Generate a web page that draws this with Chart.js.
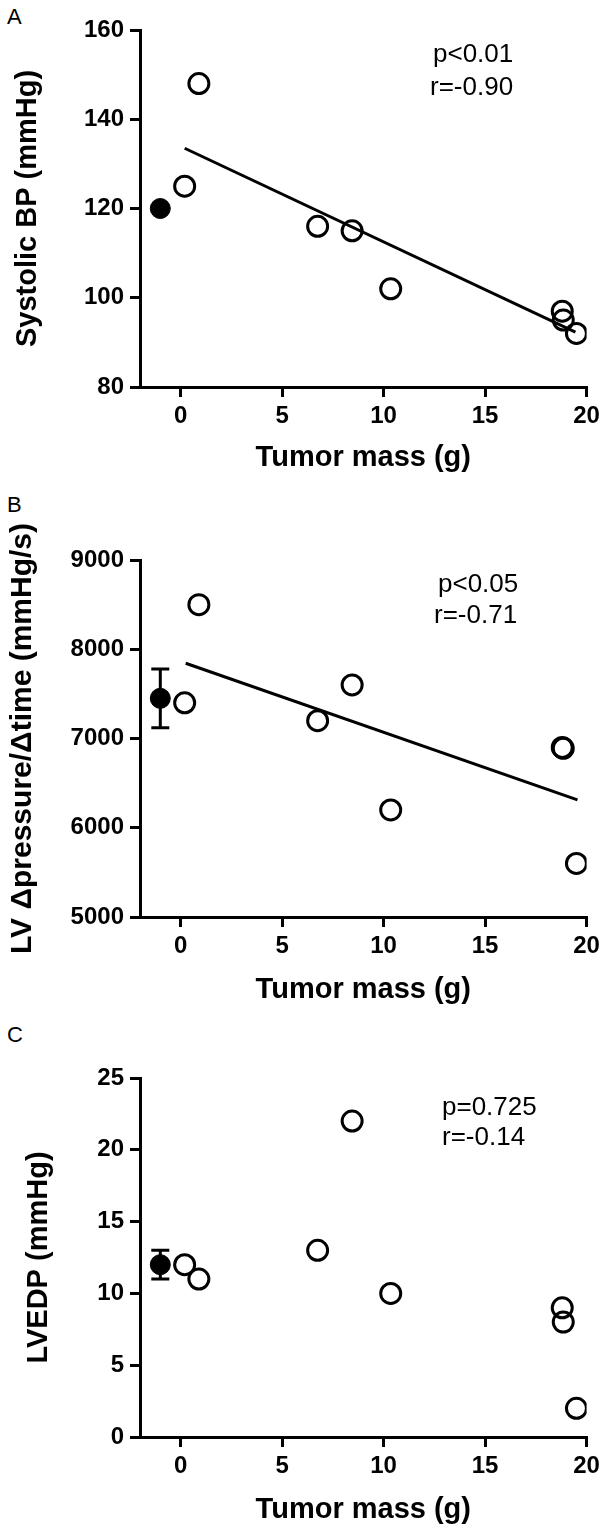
<!DOCTYPE html>
<html>
<head>
<meta charset="utf-8">
<script src="https://cdn.jsdelivr.net/npm/chart.js@4.4.1/dist/chart.umd.min.js"></script>
<style>
html,body{margin:0;padding:0;background:#fff;}
body{width:608px;height:1532px;position:relative;overflow:hidden;font-family:'Liberation Sans',Arial,sans-serif;}
canvas{position:absolute;left:0;}
.lbl{position:absolute;left:7px;font-size:22px;line-height:22px;color:#000;}
</style>
</head>
<body>
<div class="lbl" style="top:6px">A</div>
<div class="lbl" style="top:494px">B</div>
<div class="lbl" style="top:1024px">C</div>
<canvas id="cA" width="608" height="500" style="top:0px"></canvas>
<canvas id="cB" width="608" height="510" style="top:500px"></canvas>
<canvas id="cC" width="608" height="522" style="top:1010px"></canvas>
<script>
// ---- data ----
const xTicks = [0, 5, 10, 15, 20];
const tumorMass = [0.2, 0.9, 6.75, 8.45, 10.35, 18.8, 18.85, 19.5];
const controlMass = -1;

// Panel A: systolic BP
const yTicksA = [80, 100, 120, 140, 160];
const systolicBP = [125, 148, 116, 115, 102, 97, 95, 92];
const controlBP = 120;
const fitA_x = [0.2, 19.45];
const fitA_y = [133.5, 92.3];
const statsA = ['p<0.01', 'r=-0.90'];

// Panel B: LV dP/dt
const yTicksB = [5000, 6000, 7000, 8000, 9000];
const lvDpDt = [7400, 8500, 7200, 7600, 6200, 6900, 6890, 5600];
const controlDpDt = 7450;
const controlDpDtErr = [7120, 7780];
const fitB_x = [0.25, 19.55];
const fitB_y = [7843, 6312];
const statsB = ['p<0.05', 'r=-0.71'];

// Panel C: LVEDP
const yTicksC = [0, 5, 10, 15, 20, 25];
const lvedp = [12, 11, 13, 22, 10, 9, 8, 2];
const controlLVEDP = 12;
const controlLVEDPErr = [11, 13];
const statsC = ['p=0.725', 'r=-0.14'];

// ---- rendering ----
const FONT = "'Liberation Sans', Arial, sans-serif";
const zip = (xs, ys) => xs.map((x, i) => ({x: x, y: ys[i]}));

function panel(id, o) {
  const datasets = [];
  datasets.push({label: 'tumor', data: zip(tumorMass, o.values), pointRadius: 10,
    pointBackgroundColor: 'rgba(255,255,255,0)', pointBorderColor: '#000', pointBorderWidth: 3});
  datasets.push({label: 'control', data: [{x: controlMass, y: o.ctrl}], pointRadius: 10,
    pointBackgroundColor: '#000', pointBorderColor: '#000', pointBorderWidth: 1});
  if (o.err) {
    datasets.push({label: 'sem', data: o.err.map(v => ({x: controlMass, y: v})), showLine: true,
      borderColor: '#000', borderWidth: 3, pointStyle: 'line', pointRadius: 9,
      pointBorderWidth: 3, pointBorderColor: '#000', pointBackgroundColor: '#000'});
  }
  if (o.fitX) {
    datasets.push({label: 'fit', data: zip(o.fitX, o.fitY), showLine: true,
      borderColor: '#000', borderWidth: 3, pointRadius: 0});
  }
  const stats = o.stats;
  const statPlugin = {
    id: 'stats' + id,
    afterDraw(chart) {
      const c = chart.ctx;
      c.save();
      c.fillStyle = '#000';
      c.font = '26px ' + FONT;
      c.textAlign = 'left';
      c.textBaseline = 'alphabetic';
      stats.forEach((t, i) => c.fillText(t, o.statPos[i][0], o.statPos[i][1]));
      c.restore();
    }
  };
  const tickFont = {family: FONT, size: 24, weight: 'bold'};
  const gridOpts = {display: true, drawOnChartArea: false, drawTicks: true, tickLength: 10,
    tickWidth: 3, tickColor: '#000', lineWidth: 3, color: '#000'};
  return new Chart(document.getElementById(id), {
    type: 'scatter',
    data: {datasets: datasets},
    plugins: [statPlugin],
    options: {
      responsive: false, animation: false, devicePixelRatio: 1,
      layout: {padding: {top: o.top, right: 21.4, left: 0, bottom: 0}},
      plugins: {legend: {display: false}, tooltip: {enabled: false}},
      scales: {
        x: {
          type: 'linear', min: -2, max: 20,
          afterBuildTicks: s => { s.ticks = xTicks.map(v => ({value: v})); },
          afterFit: s => { s.height = o.xh; },
          ticks: {font: tickFont, color: '#000', padding: 5, maxRotation: 0, autoSkip: false,
            callback: v => String(v)},
          grid: gridOpts,
          border: {display: true, width: 3, color: '#000'},
          title: {display: true, text: 'Tumor mass (g)', color: '#000',
            font: {family: FONT, size: 29, weight: 'bold'}, padding: {top: 0, bottom: o.xtp}}
        },
        y: {
          type: 'linear', min: o.yTicks[0], max: o.yTicks[o.yTicks.length - 1],
          afterBuildTicks: s => { s.ticks = o.yTicks.map(v => ({value: v})); },
          afterFit: s => { s.width = 140; },
          ticks: {font: tickFont, color: '#000', padding: 6, autoSkip: false,
            callback: v => String(v)},
          grid: gridOpts,
          border: {display: true, width: 3, color: '#000'},
          title: {display: true, text: o.ytitle, color: '#000',
            font: {family: FONT, size: o.ytSize, weight: 'bold'}, padding: {top: o.ytp, bottom: 0}}
        }
      }
    }
  });
}

panel('cA', {values: systolicBP, ctrl: controlBP, fitX: fitA_x, fitY: fitA_y, yTicks: yTicksA,
  top: 30, xh: 113, xtp: 24.6, ytitle: 'Systolic BP (mmHg)', ytSize: 29, ytp: 10.6,
  stats: statsA, statPos: [[433, 62], [430, 95]]});
panel('cB', {values: lvDpDt, ctrl: controlDpDt, err: controlDpDtErr, fitX: fitB_x, fitY: fitB_y, yTicks: yTicksB,
  top: 60, xh: 93, xtp: 2.6, ytitle: 'LV \u0394pressure/\u0394time (mmHg/s)', ytSize: 30, ytp: 4.6,
  stats: statsB, statPos: [[438, 92], [434, 123]]});
panel('cC', {values: lvedp, ctrl: controlLVEDP, err: controlLVEDPErr, yTicks: yTicksC,
  top: 68, xh: 95, xtp: 4.6, ytitle: 'LVEDP (mmHg)', ytSize: 29, ytp: 22,
  stats: statsC, statPos: [[442, 105], [442, 135]]});
</script>
</body>
</html>
